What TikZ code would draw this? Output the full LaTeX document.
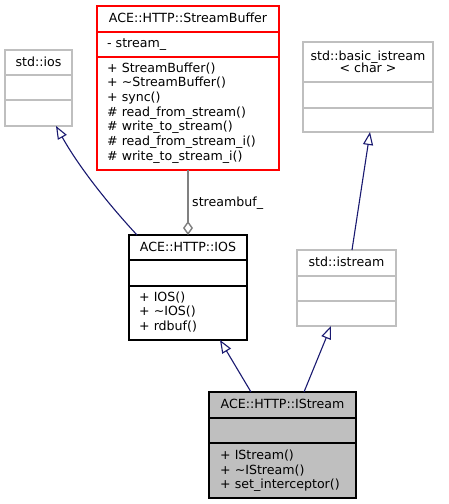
\documentclass[tikz,border=0pt]{standalone}
\usepackage{fontspec}
\setmainfont{DejaVu Sans}
\usetikzlibrary{arrows.meta,calc}
\definecolor{edgeblue}{HTML}{191970}
\definecolor{boxgrey}{HTML}{BFBFBF}
\definecolor{aggrey}{HTML}{808080}
\definecolor{sbred}{HTML}{FF0000}
\begin{document}
\begin{tikzpicture}[x=1pt,y=-1pt,
  font=\fontsize{12.6}{14.7}\selectfont,
  classbox/.style={draw, line width=1.2pt, inner sep=0pt, outer sep=0pt, anchor=north west},
  greybox/.style={classbox, draw=boxgrey},
  divider/.style={line width=1.2pt},
  txt/.style={inner sep=0pt, anchor=base west},
  ttl/.style={inner sep=0pt, anchor=base},
  inherit/.style={draw=edgeblue, line width=1.1pt, -{Triangle[open, length=13pt, width=10pt, fill=white]}},
  aggr/.style={draw=aggrey, line width=1.4pt, {Diamond[open, length=14pt, width=10pt, fill=white]}-}
]
\useasboundingbox (0,0) rectangle (448,504);

% std::ios
\node[greybox, minimum width=67pt, minimum height=76pt] (ios) at (5,50) {};
\draw[divider, boxgrey] (5,75) -- (72,75) (5,100) -- (72,100);
\node[ttl] (iost) at (38.5,66) {std::ios};

% StreamBuffer
\node[classbox, draw=sbred, minimum width=182pt, minimum height=164pt] (sb) at (97,6) {};
\draw[divider, sbred] (97,32) -- (279,32) (97,57) -- (279,57);
\node[ttl] (sbt) at (188,22) {ACE::HTTP::StreamBuffer};
\node[txt] (sba) at (107,47) {- stream\_};
\node[txt] (sbm1) at (107,72) {+ StreamBuffer()};
\node[txt] (sbm2) at (107,86.7) {+ \textasciitilde StreamBuffer()};
\node[txt] (sbm3) at (107,101.4) {+ sync()};
\node[txt] (sbm4) at (107,116.1) {\# read\_from\_stream()};
\node[txt] (sbm5) at (107,130.8) {\# write\_to\_stream()};
\node[txt] (sbm6) at (107,145.5) {\# read\_from\_stream\_i()};
\node[txt] (sbm7) at (107,160.2) {\# write\_to\_stream\_i()};

% std::basic_istream
\node[greybox, minimum width=130pt, minimum height=90pt] (basic) at (303,42) {};
\draw[divider, boxgrey] (303,82) -- (433,82) (303,108) -- (433,108);
\node[ttl] (basict1) at (368,60.5) {std::basic\_istream};
\node[ttl] (basict2) at (368,72.5) {< char >};

% ACE::HTTP::IOS
\node[classbox, draw=black, minimum width=118pt, minimum height=105pt] (IOS) at (129,235) {};
\draw[divider, black] (129,260) -- (247,260) (129,286) -- (247,286);
\node[ttl] (IOSt) at (188,251) {ACE::HTTP::IOS};
\node[txt] (IOSm1) at (139,301) {+ IOS()};
\node[txt] (IOSm2) at (139,315.7) {+ \textasciitilde IOS()};
\node[txt] (IOSm3) at (139,330.4) {+ rdbuf()};

% std::istream
\node[greybox, minimum width=99pt, minimum height=76pt] (istream) at (297,250) {};
\draw[divider, boxgrey] (297,276) -- (396,276) (297,301) -- (396,301);
\node[ttl] (istreamt) at (346.5,266) {std::istream};

% ACE::HTTP::IStream
\node[classbox, draw=black, fill=boxgrey, minimum width=147pt, minimum height=106pt] (IStream) at (209,392) {};
\draw[divider, black] (209,418) -- (356,418) (209,443) -- (356,443);
\node[ttl] (IStreamt) at (282.5,408) {ACE::HTTP::IStream};
\node[txt] (IStreamm1) at (220,459.5) {+ IStream()};
\node[txt] (IStreamm2) at (220,474.2) {+ \textasciitilde IStream()};
\node[txt] (IStreamm3) at (220,488.9) {+ set\_interceptor()};

% connectors
\draw[inherit] ([xshift=8pt]IOS.north west) .. controls (100,195) and (75,160) .. ([xshift=51pt]ios.south west);
\draw[aggr] (IOS.north) -- (sb.south);
\node[txt] (lbl) at (192,206) {streambuf\_};
\draw[inherit] ([xshift=55pt]istream.north west) -- ([xshift=67pt]basic.south west);
\draw[inherit] ([xshift=42pt]IStream.north west) -- ([xshift=91pt]IOS.south west);
\draw[inherit] ([xshift=95pt]IStream.north west) -- ([xshift=34pt]istream.south west);
\end{tikzpicture}
\end{document}
